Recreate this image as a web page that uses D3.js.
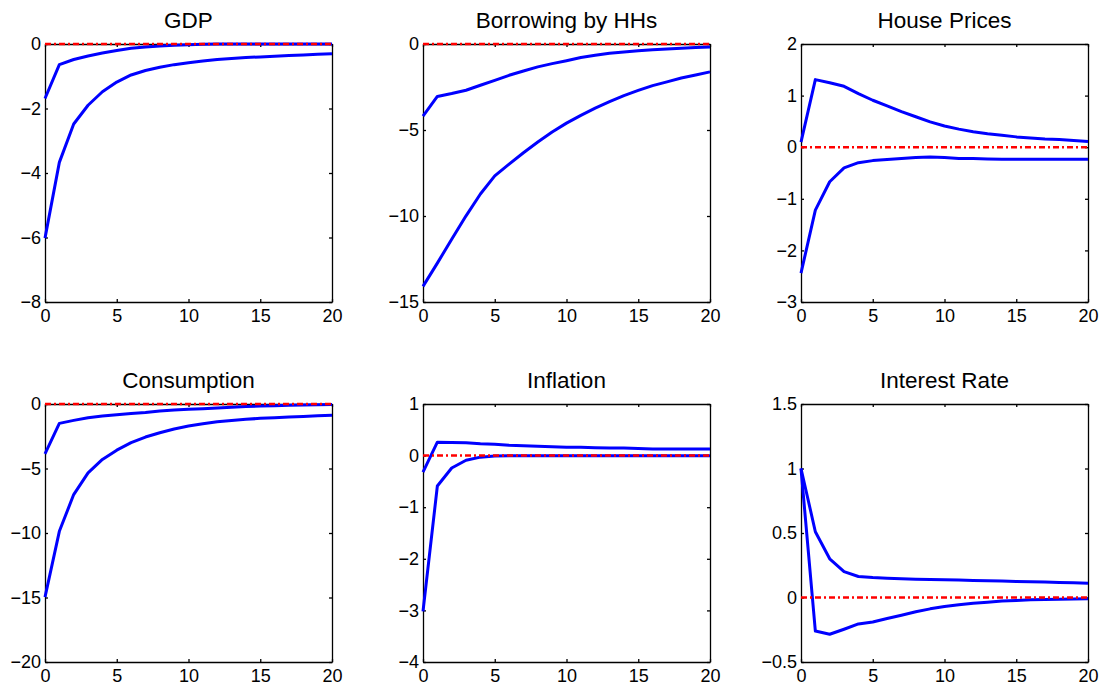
<!DOCTYPE html>
<html>
<head>
<meta charset="utf-8">
<script src="https://cdn.jsdelivr.net/npm/d3@7"></script>
<style>
  body { margin: 0; background: #fff; }
  svg { display: block; }
  .panel-title { font-family: "Liberation Sans", Arial, sans-serif; font-size: 22.5px; fill: #000; }
  .axis text { font-family: "Liberation Sans", Arial, sans-serif; font-size: 18px; fill: #000; }
  .axis path, .axis line { stroke: #000; stroke-width: 1.3; }
</style>
</head>
<body>
<svg id="chart"></svg>
<script>
// Horizon (quarters after shock)
const HORIZON = [0, 1, 2, 3, 4, 5, 6, 7, 8, 9, 10, 11, 12, 13, 14, 15, 16, 17, 18, 19, 20];
const X_TICKS = [0, 5, 10, 15, 20];

// Upper / lower bands
const GDP_UPPER = [-1.69, -0.64, -0.48, -0.37, -0.28, -0.2, -0.13, -0.09, -0.06, -0.04, -0.02, -0.01, 0, 0, 0, 0, 0, 0, 0, 0, 0];
const GDP_LOWER = [-6.02, -3.67, -2.48, -1.9, -1.48, -1.18, -0.96, -0.82, -0.72, -0.64, -0.58, -0.53, -0.48, -0.45, -0.42, -0.4, -0.38, -0.36, -0.34, -0.32, -0.3];

const BORROW_UPPER = [-4.19, -3.05, -2.88, -2.69, -2.4, -2.11, -1.82, -1.57, -1.33, -1.14, -0.97, -0.79, -0.66, -0.54, -0.46, -0.39, -0.33, -0.29, -0.25, -0.21, -0.17];
const BORROW_LOWER = [-14.09, -12.74, -11.35, -9.99, -8.72, -7.67, -6.98, -6.32, -5.7, -5.12, -4.6, -4.15, -3.73, -3.35, -3.0, -2.7, -2.42, -2.2, -1.98, -1.8, -1.62];

const HOUSE_UPPER = [0.1, 1.31, 1.25, 1.18, 1.04, 0.91, 0.8, 0.69, 0.59, 0.49, 0.41, 0.35, 0.3, 0.26, 0.23, 0.2, 0.18, 0.16, 0.15, 0.13, 0.11];
const HOUSE_LOWER = [-2.44, -1.22, -0.67, -0.4, -0.3, -0.26, -0.24, -0.22, -0.2, -0.19, -0.2, -0.22, -0.22, -0.23, -0.235, -0.235, -0.235, -0.235, -0.235, -0.235, -0.235];

const CONS_UPPER = [-3.86, -1.5, -1.27, -1.06, -0.93, -0.83, -0.73, -0.65, -0.54, -0.47, -0.41, -0.36, -0.31, -0.26, -0.2, -0.16, -0.13, -0.1, -0.08, -0.05, -0.03];
const CONS_LOWER = [-14.97, -9.87, -7.02, -5.34, -4.3, -3.58, -3.0, -2.56, -2.23, -1.94, -1.71, -1.53, -1.37, -1.27, -1.19, -1.11, -1.06, -1.01, -0.96, -0.91, -0.88];

const INFL_UPPER = [-0.32, 0.26, 0.255, 0.25, 0.23, 0.22, 0.2, 0.19, 0.18, 0.17, 0.16, 0.16, 0.15, 0.145, 0.145, 0.14, 0.13, 0.13, 0.13, 0.13, 0.13];
const INFL_LOWER = [-3.02, -0.59, -0.24, -0.09, -0.03, -0.01, -0.005, -0.005, -0.005, -0.005, -0.005, -0.005, -0.005, -0.005, -0.005, -0.005, -0.005, -0.005, -0.005, -0.005, -0.005];

const RATE_UPPER = [1.0, 0.51, 0.3, 0.2, 0.163, 0.155, 0.15, 0.145, 0.142, 0.14, 0.137, 0.135, 0.132, 0.13, 0.127, 0.124, 0.122, 0.12, 0.117, 0.114, 0.111];
const RATE_LOWER = [1.0, -0.26, -0.285, -0.246, -0.205, -0.19, -0.163, -0.137, -0.11, -0.088, -0.07, -0.057, -0.044, -0.036, -0.028, -0.023, -0.018, -0.016, -0.013, -0.011, -0.01];

const TITLES = ["GDP", "Borrowing by HHs", "House Prices", "Consumption", "Inflation", "Interest Rate"];
const Y_DOMAINS = [[-8, 0], [-15, 0], [-3, 2], [-20, 0], [-4, 1], [-0.5, 1.5]];
const Y_TICKS = [
  [-8, -6, -4, -2, 0],
  [-15, -10, -5, 0],
  [-3, -2, -1, 0, 1, 2],
  [-20, -15, -10, -5, 0],
  [-4, -3, -2, -1, 0, 1],
  [-0.5, 0, 0.5, 1, 1.5],
];
const UPPER = [GDP_UPPER, BORROW_UPPER, HOUSE_UPPER, CONS_UPPER, INFL_UPPER, RATE_UPPER];
const LOWER = [GDP_LOWER, BORROW_LOWER, HOUSE_LOWER, CONS_LOWER, INFL_LOWER, RATE_LOWER];

const WIDTH = 1103;
const HEIGHT = 686;
const COL_LEFT = [45, 423, 801];
const ROW_TOP = [44, 404];
const PANEL_W = 287;
const PANEL_H = 258;
const TICK = 3;

const svg = d3.select("#chart").attr("width", WIDTH).attr("height", HEIGHT);

const fmt = d3.format("~g");

TITLES.forEach((title, i) => {
  const col = i % 3;
  const row = Math.floor(i / 3);

  const g = svg
    .append("g")
    .attr("transform", `translate(${COL_LEFT[col]}, ${ROW_TOP[row]})`);

  const xScale = d3.scaleLinear().domain([0, 20]).range([0, PANEL_W]);
  const yScale = d3.scaleLinear().domain(Y_DOMAINS[i]).range([PANEL_H, 0]);

  // Box with inward ticks on all four sides
  g.append("g")
    .attr("class", "axis")
    .attr("transform", `translate(0, ${PANEL_H})`)
    .call(d3.axisBottom(xScale).tickValues(X_TICKS).tickSizeInner(-TICK).tickSizeOuter(0).tickPadding(7))
    .call((a) => a.attr("font-size", null).attr("font-family", null));

  g.append("g")
    .attr("class", "axis")
    .call(d3.axisTop(xScale).tickValues(X_TICKS).tickSizeInner(-TICK).tickSizeOuter(0).tickFormat(""));

  g.append("g")
    .attr("class", "axis")
    .call(d3.axisLeft(yScale).tickValues(Y_TICKS[i]).tickSizeInner(-TICK).tickSizeOuter(0).tickPadding(4).tickFormat(fmt))
    .call((a) => a.attr("font-size", null).attr("font-family", null));

  g.append("g")
    .attr("class", "axis")
    .attr("transform", `translate(${PANEL_W}, 0)`)
    .call(d3.axisRight(yScale).tickValues(Y_TICKS[i]).tickSizeInner(-TICK).tickSizeOuter(0).tickFormat(""));

  // Title
  g.append("text")
    .attr("class", "panel-title")
    .attr("x", PANEL_W / 2)
    .attr("y", -16)
    .attr("text-anchor", "middle")
    .text(title);

  const line = d3
    .line()
    .x((d, k) => xScale(HORIZON[k]))
    .y((d) => yScale(d));

  // Bands
  [UPPER[i], LOWER[i]].forEach((series) => {
    g.append("path")
      .attr("d", line(series))
      .attr("fill", "none")
      .attr("stroke", "#0000ff")
      .attr("stroke-width", 3)
      .attr("stroke-linejoin", "round");
  });

  // Zero line, dash-dot
  g.append("path")
    .attr("d", line(HORIZON.map(() => 0)))
    .attr("fill", "none")
    .attr("stroke", "#ff0000")
    .attr("stroke-width", 2.5)
    .attr("stroke-dasharray", "6,3,2,3");
});
</script>
</body>
</html>
